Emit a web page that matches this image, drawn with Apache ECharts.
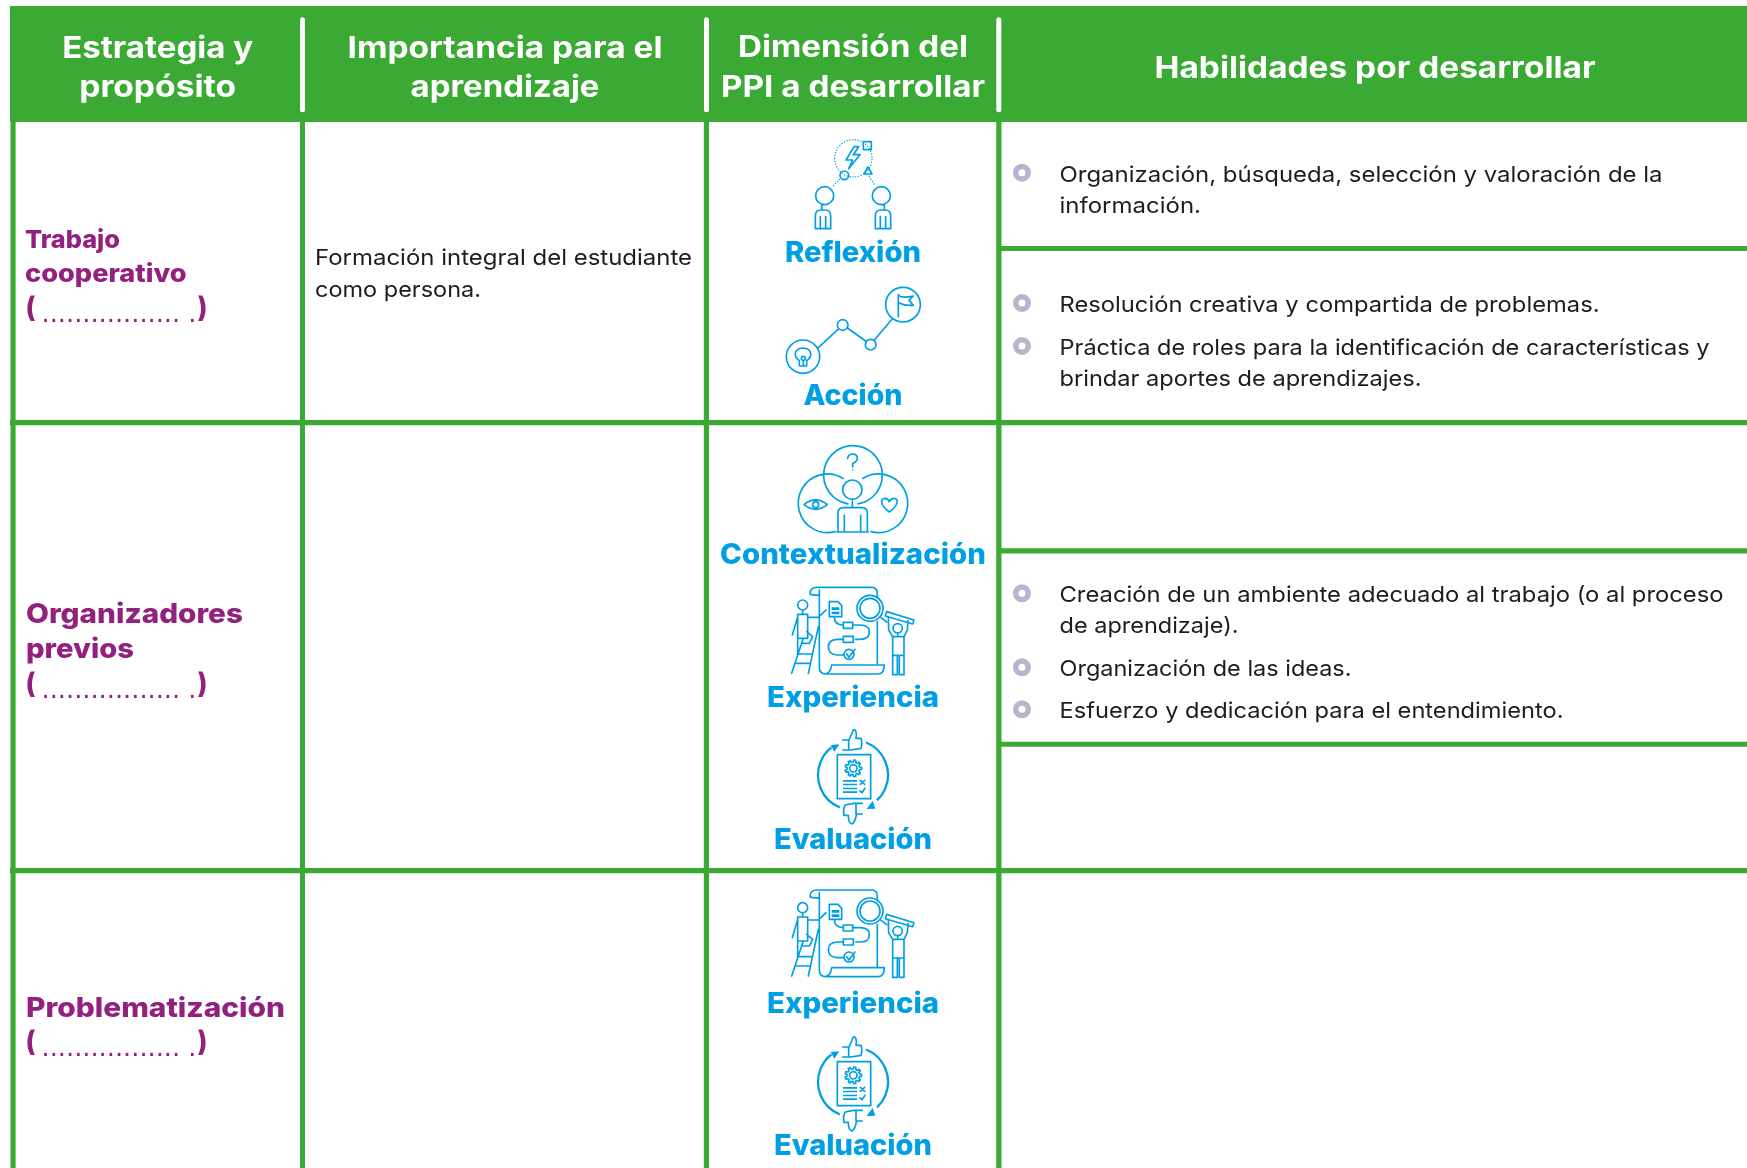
<!DOCTYPE html>
<html lang="es">
<head>
<meta charset="utf-8">
<title>Estrategias y habilidades</title>
<script src="https://cdn.jsdelivr.net/npm/echarts@6/dist/echarts.min.js"></script>
<style>html,body{margin:0;padding:0;background:#fff}#main{width:1747px;height:1168px}</style>
</head>
<body>
<div id="main"></div>
<script>
// ---------- Content ----------
const headerLines = ['Estrategia y', 'propósito', 'Importancia para el', 'aprendizaje', 'Dimensión del', 'PPI a desarrollar', 'Habilidades por desarrollar'];
const strategyLines = ['Trabajo', 'cooperativo', 'Organizadores', 'previos', 'Problematización'];
const blankLines = ['(', ')', '................. .'];
const importanceLines = ['Formación integral del estudiante', 'como persona.'];
const dimensionLabels = ['Reflexión', 'Acción', 'Contextualización', 'Experiencia', 'Evaluación', 'Experiencia', 'Evaluación'];
const skillLines = [
  'Organización, búsqueda, selección y valoración de la',
  'información.',
  'Resolución creativa y compartida de problemas.',
  'Práctica de roles para la identificación de características y',
  'brindar aportes de aprendizajes.',
  'Creación de un ambiente adecuado al trabajo (o al proceso',
  'de aprendizaje).',
  'Organización de las ideas.',
  'Esfuerzo y dedicación para el entendimiento.'
];
const dimensionIcons = ['reflexion', 'accion', 'contexto', 'experiencia', 'evaluacion', 'experiencia', 'evaluacion'];

// ---------- Layout (page pixels, read through the hidden axes) ----------
const PAGE_W = 1747, PAGE_H = 1168;
const GREEN = '#3aaa35', PURPLE = '#93207f', CYAN = '#009fe3', INK = '#1d1d1b', RING = '#a3a2c0';
const FONT = 'Inter, "Noto Sans", sans-serif';
const headerPos = [[157.7,58,191],[157.7,97,157],[505,58,315],[505,97,189],[853,57,230],[853,97,264],[1375,78,441]];
const strategyPos = [[25,248,95,25],[25,282,161.5,25],[26,623,217,27.5],[26,658,108,27.5],[26,1016.5,259,27]];
const blankRows = [316, 692, 1050];
const importancePos = [[315,265,377],[315,297,166]];
const dimensionPos = [[853,262,136],[853,405,99],[853,564,266],[853,707,172],[853,849,158],[853,1012.5,172],[853,1155,158]];
const skillPos = [[182,603],[213,141.5],[312,540],[355,650],[385.5,362],[602,664],[633,179],[675.5,292],[718,504]];
const bulletX = 1022;
const bulletY = [172.7, 303, 346, 593.3, 667.3, 709.3];
const iconOrigins = [[700,120],[700,120],[700,430],[700,430],[700,710],[700,732.7],[700,1017]];
const greenRects = [
  [10,6,PAGE_W,122],
  [10.5,122,15.6,PAGE_H],[300,122,305,PAGE_H],[703.8,122,709,PAGE_H],[996.2,122,1001.5,PAGE_H],
  [10,420,PAGE_W,425.3],[10,868,PAGE_W,873.3],
  [999,246,PAGE_W,251],[999,548.3,PAGE_W,553.6],[999,741.7,PAGE_W,746.8]
];
const whiteDividers = [[300,17.3,305,112.3],[704,17.3,709,112.3],[996.3,17.3,1001.3,112.3]];

// ---------- Icon glyphs (traced in 3x local units) ----------
const c = (x,y,r) => `M${x-r} ${y}A${r} ${r} 0 1 1 ${x+r} ${y}A${r} ${r} 0 1 1 ${x-r} ${y}Z`;
function gear(cx,cy,r1,r2,n){
  let d='';
  for(let i=0;i<n;i++){
    const s=Math.PI*2/n, a=i*s;
    const p=(r,t)=>`${(cx+r*Math.cos(t)).toFixed(1)} ${(cy+r*Math.sin(t)).toFixed(1)}`;
    d+=(i?'L':'M')+p(r1,a-s*.3)+'L'+p(r2,a-s*.18)+'L'+p(r2,a+s*.18)+'L'+p(r1,a+s*.3);
  }
  return d+'Z';
}
const ICONS = {
  reflexion:{
    stroke:c(374,227,27)+c(544,227,27)+c(433,166,13)+'M490 65H514V89H490ZM504 141L492 162H516ZM462 80L438 120H458L446 146L480 104H460L476 80Z'+
      'M365 254V270M553 254V270M346 326V288Q346 270 362 270H376Q392 270 392 288V326ZM361 290V326M377 290V326'+
      'M526 326V288Q526 270 542 270H556Q572 270 572 288V326ZM541 290V326M557 290V326',
    dots:c(460,115,56)+'M418 178L395 203M508 170L526 198'
  },
  accion:{
    stroke:c(309,710,50)+c(609,554,52)+c(428,615,16)+c(512,674,16)+'M355 683L414 628M442 624L497 663M523 660L576 598'+
      'M298 722Q284 712 286 700Q288 685 309 684Q330 685 332 700Q334 712 320 722V738H298Z'+c(310,715,6)+'M310 721V738'+
      'M595 524V590M595 526Q608 536 640 528L627 541L640 556Q615 558 597 549'
  },
  contexto:{
    stroke:'M443.7 221.7A88 88 0 1 1 474.3 221.7M405 305A88 88 0 1 1 429.6 145.4M513 305A88 88 0 1 0 488.4 145.4'+c(457,179,29)+
      'M457 208V233M414 306V249Q414 233 430 233H486Q502 233 502 249V306M410 306H505M433 256V306M482 256V306'+
      'M443 85Q445 72 458 72Q472 72 472 85Q472 95 458 101V111M312 224Q347 195 382 224Q347 252 312 224Z'+c(347,224,9)+
      'M568 246C540 226 540 205 555 205Q565 205 568 215Q572 205 582 205C597 205 596 226 568 246Z',
    fill:c(458,120,2.5)
  },
  experiencia:{
    stroke:'M330 492Q330 472 350 472H515Q532 472 532 492V505M532 575V703M358 480V712Q358 732 378 732H535Q553 730 553 705H395Q392 730 375 732M330 492Q338 497 358 495'+
      'M388 515H414L425 527V560H388Z'+
      c(510,535,39)+c(510,535,30)+'M543 563L560 576'+
      'M403 560Q403 585 430 585M430 577H458V595H430ZM458 585H480Q508 585 508 606Q508 628 480 628H467M430 619H460V637H430ZM430 628H410Q385 630 385 651Q385 672 410 675H430'+
      c(447,673,15)+'M440 672L447 682L465 658'+
      c(308,525,15)+'M308 540V553M293 553H323V625H293ZM323 562H355L378 540M293 560L277 615M293 625V670M320 605L338 620L328 640H305'+
      'M275 730L310 625M325 730L355 590M292 672H335M285 700H328'+
      'M560 545L642 570L638 582L556 558ZM593 609V620'+c(593,595,14)+'M565 560L566 600L578 620H612L622 600L624 572M578 620V734H592V676H598V734H612V620M578 676H612'
    ,fill:'M395 532H418V540H395ZM395 545H418V553H395Z'
  },
  evaluacion:{
    stroke:'M412 134H512V266H412Z'+c(460,175,11)+gear(460,175,19,25,9)+
      'M428 90H447L460 60Q472 58 468 85H483Q488 98 483 115L452 120H428M446 90V120'+
      'M487 280H462L435 285Q428 300 432 316H445Q445 340 455 342Q464 340 470 312H487M468 282V312'+
      'M481 211L494 223M494 211L481 223M480 243L486 248L495 235',
    thick:'M419.7 292.4A105 105 0 0 1 394.4 112.3M498.3 97.6A105 105 0 0 1 531.2 271.3',
    fill:'M418 103L392 105L403 125ZM500 297L526 296L518 272ZM429 210H471V215H429ZM429 221H471V226H429ZM429 233H471V238H429ZM429 244H471V249H429Z'
  }
};

// ---------- Text items ----------
const textItems = [];
function addText(text,x,base,width,size,weight,fill,align,family){
  textItems.push({text,x,base,width,size,weight,fill,align,family:family||FONT});
}
headerLines.forEach((t,i)=>{const p=headerPos[i];addText(t,p[0],p[1],p[2],30,700,'#fff','center');});
strategyLines.forEach((t,i)=>{const p=strategyPos[i];addText(t,p[0],p[1],p[2],p[3],800,PURPLE,'left');});
blankRows.forEach(y=>{
  addText(blankLines[0],25.5,y+1,10,28,800,PURPLE,'left');
  addText(blankLines[1],197.5,y+1,10,28,800,PURPLE,'left');
  addText(blankLines[2],41.5,y+6.5,155,24.5,400,PURPLE,'left','"DejaVu Sans"');
});
importanceLines.forEach((t,i)=>{const p=importancePos[i];addText(t,p[0],p[1],p[2],22,400,INK,'left');});
dimensionLabels.forEach((t,i)=>{const p=dimensionPos[i];addText(t,p[0],p[1],p[2],28,800,CYAN,'center');});
skillLines.forEach((t,i)=>{const p=skillPos[i];addText(t,1059.5,p[0],p[1],22,400,INK,'left');});

const measure = document.createElement('canvas').getContext('2d');
function fitScale(it){
  measure.font = `${it.weight} ${it.size}px ${it.family}`;
  return it.width / measure.measureText(it.text).width;
}

const chart = echarts.init(document.getElementById('main'), null, {renderer:'canvas'});
chart.setOption({
  animation:false,
  backgroundColor:'#fff',
  tooltip:{show:false},
  grid:{left:0,right:0,top:0,bottom:0},
  xAxis:{type:'value',min:0,max:PAGE_W,show:false},
  yAxis:{type:'value',min:0,max:PAGE_H,inverse:true,show:false},
  series:[
    {
      name:'cuadricula',type:'custom',coordinateSystem:'cartesian2d',silent:true,clip:false,z:1,
      data:greenRects.concat(whiteDividers).map((r,i)=>[r[0],r[1],r[2],r[3],i]),
      encode:{x:[0,2],y:[1,3]},
      renderItem(params,api){
        const a=api.coord([api.value(0),api.value(1)]), b=api.coord([api.value(2),api.value(3)]);
        const isDivider=api.value(4)>=greenRects.length;
        return {type:'rect',shape:{x:a[0],y:a[1],width:b[0]-a[0],height:b[1]-a[1],r:isDivider?2.5:0},
          style:{fill:isDivider?'#fff':GREEN}};
      }
    },
    {
      name:'vinetas',type:'scatter',silent:true,z:2,symbol:'circle',symbolSize:12.5,
      itemStyle:{color:'#fff',borderColor:RING,borderWidth:5.5},
      data:bulletY.map(y=>[bulletX,y])
    },
    {
      name:'iconos',type:'custom',coordinateSystem:'cartesian2d',silent:true,clip:false,z:3,
      data:iconOrigins.map((o,i)=>[o[0],o[1],i]),
      encode:{x:0,y:1},
      renderItem(params,api){
        const p=api.coord([api.value(0),api.value(1)]);
        const ic=ICONS[dimensionIcons[api.value(2)]];
        const kids=[];
        if(ic.stroke)kids.push({type:'path',shape:{pathData:ic.stroke},style:{fill:null,stroke:CYAN,lineWidth:5,lineJoin:'round',lineCap:'round'}});
        if(ic.thick)kids.push({type:'path',shape:{pathData:ic.thick},style:{fill:null,stroke:CYAN,lineWidth:7}});
        if(ic.dots)kids.push({type:'path',shape:{pathData:ic.dots},style:{fill:null,stroke:CYAN,lineWidth:4,lineCap:'round',lineDash:[0.5,8]}});
        if(ic.fill)kids.push({type:'path',shape:{pathData:ic.fill},style:{fill:CYAN,stroke:null}});
        return {type:'group',x:p[0],y:p[1],scaleX:1/3,scaleY:1/3,children:kids};
      }
    },
    {
      name:'textos',type:'custom',coordinateSystem:'cartesian2d',silent:true,clip:false,z:4,
      data:textItems.map((t,i)=>[t.x,t.base,i]),
      encode:{x:0,y:1},
      renderItem(params,api){
        const it=textItems[api.value(2)];
        const p=api.coord([api.value(0),api.value(1)-0.3*it.size]);
        return {type:'text',x:p[0],y:p[1],scaleX:fitScale(it),
          style:{text:it.text,align:it.align,verticalAlign:'middle',fontSize:it.size,fontWeight:it.weight,fontFamily:it.family,fill:it.fill}};
      }
    }
  ]
});
</script>
</body>
</html>
